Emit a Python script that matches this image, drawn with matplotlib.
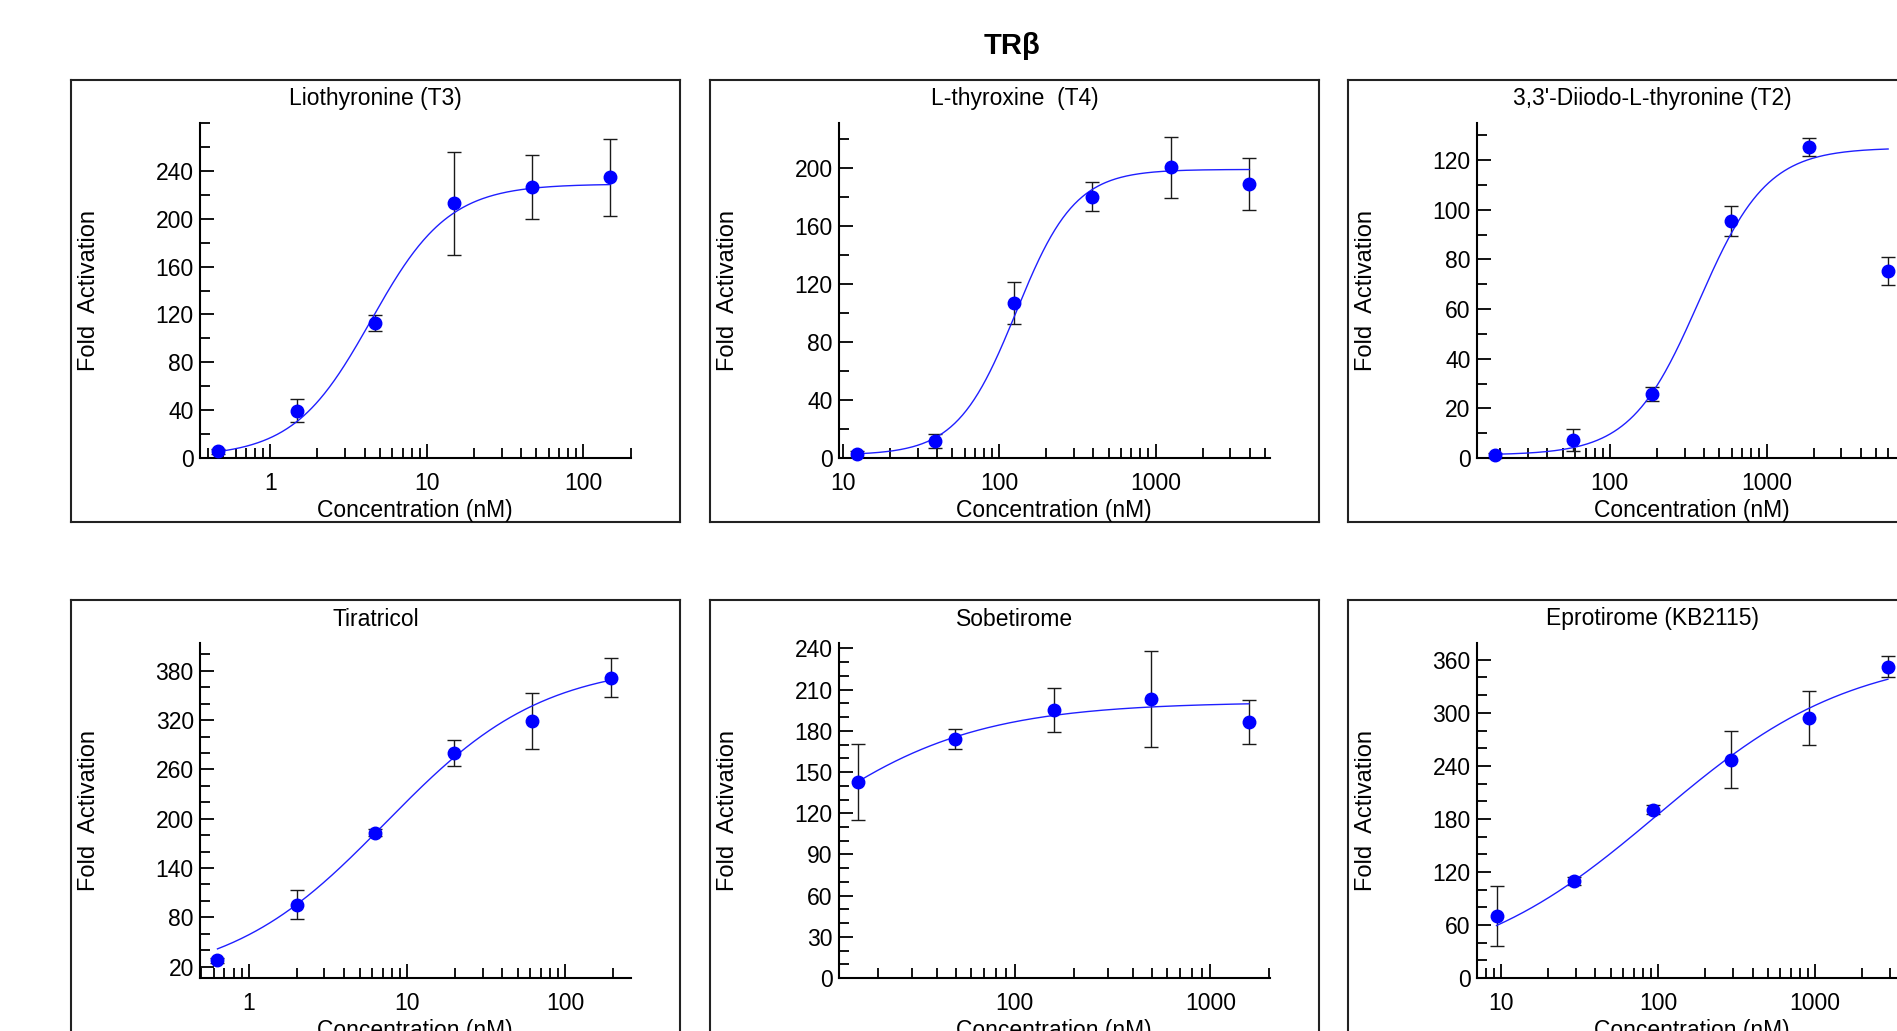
import matplotlib
matplotlib.use("Agg")
import matplotlib.pyplot as plt
import numpy as np
from matplotlib.ticker import FixedLocator, LogLocator, NullFormatter, FuncFormatter

plt.rcParams.update({
    "font.family": ["Liberation Sans", "DejaVu Sans"],
    "font.size": 16,
})

W, H = 1897, 1031          # output size in pixels (dpi 100)

# ---- measured dose-response data (mean +/- error) ----
t3_conc = [0.467, 1.48, 4.67, 14.8, 46.7, 148]
t3_fold = [5.5, 39.7, 112.7, 213, 226.4, 234.5]
t3_err = [2, 9.7, 6.7, 43, 26.8, 32]

t4_conc = [12.35, 39, 124, 393, 1256, 3990]
t4_fold = [2.8, 11.8, 106.7, 180.2, 200.5, 189]
t4_err = [2, 4.8, 14.5, 10, 21, 17.7]

t2_conc = [18.4, 58.5, 185.6, 594, 1880, 5970]
t2_fold = [1.1, 7.2, 25.8, 95.5, 125.4, 75.4]
t2_err = [1, 4.5, 2.8, 6, 3.7, 5.6]

tira_conc = [0.632, 2.0, 6.27, 19.7, 61.8, 194.5]
tira_fold = [27.5, 95.5, 182.9, 280.4, 319.2, 371.8]
tira_err = [3, 17.7, 4, 16, 33.7, 24]

sobe_conc = [15.8, 49.4, 158, 494, 1571]
sobe_fold = [142.5, 174, 195, 203.2, 186.2]
sobe_err = [27.7, 7.3, 16, 35.3, 16]

epro_conc = [9.4, 29.4, 93.1, 293, 916, 2904]
epro_fold = [70.1, 109.9, 190.6, 247.1, 294.4, 352.4]
epro_err = [33.7, 4.2, 5, 32.2, 30.7, 12]

# 4PL fit parameters: bottom, top, EC50 (nM), Hill slope
t3_fit = [1, 229, 4.4, 1.75]
t4_fit = [2, 199, 128, 2.3]
t2_fit = [1.2, 125, 370, 2.0]
tira_fit = [0, 390, 7.3, 0.87]
sobe_fit = [0, 201, 5.8, 0.9]
epro_fit = [0, 370, 100, 0.7]

# ---- axis ranges and y ticks ----
t3_xlim, t3_ylim = (0.356, 200), (0, 280)
t4_xlim, t4_ylim = (9.42, 5370), (0, 231)
t2_xlim, t2_ylim = (14.2, 7950), (0, 135)
tira_xlim, tira_ylim = (0.49, 259), (6, 414)
sobe_xlim, sobe_ylim = (12.65, 2005), (0, 244)
epro_xlim, epro_ylim = (7.06, 3875), (0, 379)

t3_yticks, t3_ystep = [0, 40, 80, 120, 160, 200, 240], 20
t4_yticks, t4_ystep = [0, 40, 80, 120, 160, 200], 20
t2_yticks, t2_ystep = [0, 20, 40, 60, 80, 100, 120], 10
tira_yticks, tira_ystep = [20, 80, 140, 200, 260, 320, 380], 20
sobe_yticks, sobe_ystep = [0, 30, 60, 90, 120, 150, 180, 210, 240], 10
epro_yticks, epro_ystep = [0, 60, 120, 180, 240, 300, 360], 20

titles = ["Liothyronine (T3)", "L-thyroxine  (T4)", "3,3'-Diiodo-L-thyronine (T2)",
          "Tiratricol", "Sobetirome", "Eprotirome (KB2115)"]

panels = [
    (t3_conc, t3_fold, t3_err, t3_fit, t3_xlim, t3_ylim, t3_yticks, t3_ystep),
    (t4_conc, t4_fold, t4_err, t4_fit, t4_xlim, t4_ylim, t4_yticks, t4_ystep),
    (t2_conc, t2_fold, t2_err, t2_fit, t2_xlim, t2_ylim, t2_yticks, t2_ystep),
    (tira_conc, tira_fold, tira_err, tira_fit, tira_xlim, tira_ylim, tira_yticks, tira_ystep),
    (sobe_conc, sobe_fold, sobe_err, sobe_fit, sobe_xlim, sobe_ylim, sobe_yticks, sobe_ystep),
    (epro_conc, epro_fold, epro_err, epro_fit, epro_xlim, epro_ylim, epro_yticks, epro_ystep),
]


def hill(x, bottom, top, ec50, slope):
    return bottom + (top - bottom) / (1.0 + (ec50 / x) ** slope)


def px_rect(left, top, width, height):
    """Pixel box (from top-left) -> figure fraction rect."""
    return [left / W, 1 - (top + height) / H, width / W, height / H]


box_left = [71, 710, 1348]
box_top = [80, 600]
BOX_W, BOX_H = 609, 442
AX_DX, AX_DY = 129, 43
AX_W, AX_H = 430.6, 335

fig = plt.figure(figsize=(W / 100, H / 100), dpi=100)
fig.text(1012 / W, 1 - 46 / H, "TRβ", ha="center", va="center",
         fontsize=21, fontweight="bold")

for i, (conc, fold, err, fit, xlim, ylim, yticks, ystep) in enumerate(panels):
    row, col = divmod(i, 3)
    bl, bt = box_left[col], box_top[row]

    # outer frame around each panel
    frame = fig.add_axes(px_rect(bl, bt, BOX_W, BOX_H), zorder=0)
    frame.set_xticks([])
    frame.set_yticks([])
    frame.patch.set_alpha(0)
    for sp in frame.spines.values():
        sp.set_linewidth(1.5)
        sp.set_color("#222222")

    fig.text((bl + BOX_W / 2) / W, 1 - (bt + 19) / H, titles[i],
             ha="center", va="center", fontsize=16.5)

    ax = fig.add_axes(px_rect(bl + AX_DX, bt + AX_DY, AX_W, AX_H), zorder=1)
    ax.patch.set_alpha(0)
    ax.set_xscale("log")
    ax.set_xlim(*xlim)
    ax.set_ylim(*ylim)

    xs = np.logspace(np.log10(conc[0]), np.log10(conc[-1]), 400)
    ax.plot(xs, hill(xs, *fit), color="#1f1fff", lw=1.0, zorder=3)
    ax.errorbar(conc, fold, yerr=err, fmt="none", ecolor="#1a1a1a",
                elinewidth=1.0, capsize=5, capthick=1.0, zorder=2, clip_on=False)
    ax.plot(conc, fold, "o", color="#0000ff", ms=9, mec="#0000ff",
            zorder=4, clip_on=False)

    ax.spines["top"].set_visible(False)
    ax.spines["right"].set_visible(False)
    ax.spines["left"].set_linewidth(1.5)
    ax.spines["bottom"].set_linewidth(1.5)

    ax.yaxis.set_major_locator(FixedLocator(yticks))
    minor_y = [v for v in np.arange(0, ylim[1] + 0.1, ystep)
               if v >= ylim[0] and v not in yticks]
    ax.yaxis.set_minor_locator(FixedLocator(minor_y))
    ax.yaxis.set_minor_formatter(NullFormatter())

    ax.xaxis.set_major_locator(LogLocator(base=10, numticks=20))
    ax.xaxis.set_minor_locator(LogLocator(base=10, subs=np.arange(2, 10), numticks=20))
    ax.xaxis.set_major_formatter(FuncFormatter(lambda v, _: f"{v:g}"))
    ax.xaxis.set_minor_formatter(NullFormatter())

    ax.tick_params(which="both", direction="in", width=1.3, labelsize=16.5)
    ax.tick_params(which="major", length=10)
    ax.tick_params(which="minor", length=7.3)
    ax.tick_params(axis="y", which="both", pad=4.5)
    ax.tick_params(axis="x", which="both", pad=10)

    ax.set_xlabel("Concentration (nM)", fontsize=16.5)
    ax.xaxis.set_label_coords(0.5, -0.123)
    ax.set_ylabel("Fold  Activation", fontsize=17)
    ax.yaxis.set_label_coords(-0.233, 0.5)

fig.savefig("out.png", dpi=100)
